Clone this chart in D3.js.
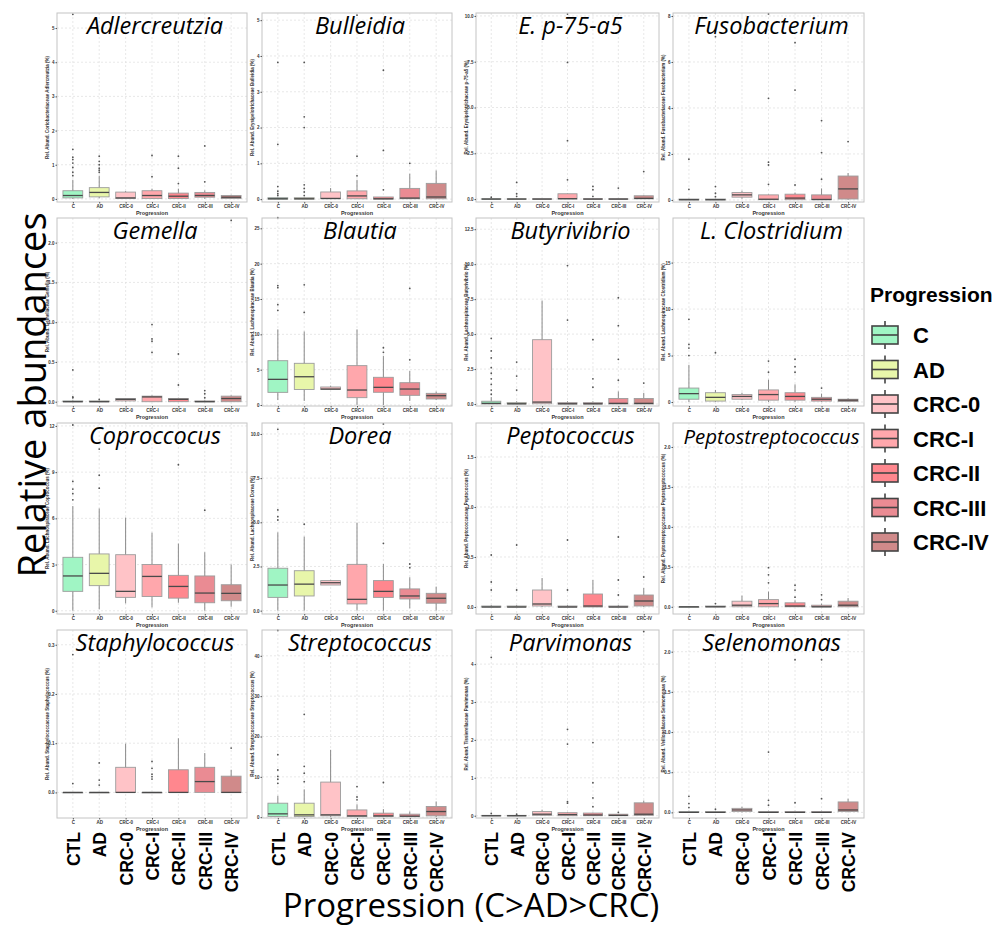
<!DOCTYPE html>
<html>
<head>
<meta charset="utf-8">
<script src="https://cdn.jsdelivr.net/npm/d3@7"></script>
<style>
body{margin:0;background:#fff}
svg{display:block}
</style>
</head>
<body>
<svg width="1008" height="928"></svg>
<script>
var groups = ["C","AD","CRC-0","CRC-I","CRC-II","CRC-III","CRC-IV"];
var bottomLabels = ["CTL","AD","CRC-0","CRC-I","CRC-II","CRC-III","CRC-IV"];
var groupColors = ["#a0f5c4","#e8f6aa","#ffc3c7","#ffa7ac","#ff878e","#ea8b93","#d08a8a"];

var taxa = ["Adlercreutzia","Bulleidia","E. p-75-a5","Fusobacterium",
            "Gemella","Blautia","Butyrivibrio","L. Clostridium",
            "Coproccocus","Dorea","Peptococcus","Peptostreptococcus",
            "Staphylococcus","Streptococcus","Parvimonas","Selenomonas"];

var yTitles = [
  "Rel. Abund. Coriobacteriaceae Adlercreutzia (%)",
  "Rel. Abund. Erysipelotrichaceae Bulleidia (%)",
  "Rel. Abund. Erysipelotrichaceae p-75-a5 (%)",
  "Rel. Abund. Fusobacteriaceae Fusobacterium (%)",
  "Rel. Abund. Gemellaceae Gemella (%)",
  "Rel. Abund. Lachnospiraceae Blautia (%)",
  "Rel. Abund. Lachnospiraceae Butyrivibrio (%)",
  "Rel. Abund. Lachnospiraceae Clostridium (%)",
  "Rel. Abund. Lachnospiraceae Coprococcus (%)",
  "Rel. Abund. Lachnospiraceae Dorea (%)",
  "Rel. Abund. Peptococcaceae Peptococcus (%)",
  "Rel. Abund. Peptostreptococcaceae Peptostreptococcus (%)",
  "Rel. Abund. Staphylococcaceae Staphylococcus (%)",
  "Rel. Abund. Streptococcaceae Streptococcus (%)",
  "Rel. Abund. Tissierellaceae Parvimonas (%)",
  "Rel. Abund. Veillonellaceae Selenomonas (%)"];

var yTicks = [
  [0,1,2,3,4,5],[0,1,2,3,4,5],[0,2.5,5,7.5,10],[0,2,4,6,8],
  [0,0.5,1,1.5,2],[0,5,10,15,20,25],[0,2.5,5,7.5,10,12.5],[0,5,10,15],
  [0,3,6,9,12],[0,2.5,5,7.5,10],[0,0.5,1,1.5],[0,0.5,1,1.5,2],
  [0,0.1,0.2,0.3],[0,10,20,30,40],[0,1,2,3,4],[0,0.5,1,1.5,2]];
var tickFormats = ["d","d",".1f","d",".1f","d",".1f","d","d",".1f",".1f",".1f",".1f","d","d",".1f"];
var yDomains = [
  [-0.09,5.44],[-0.08,5.2],[-0.16,10.16],[-0.09,8.13],
  [-0.054,2.31],[-0.14,26.46],[-0.14,13.3],[-0.43,19.8],
  [-0.21,12.19],[-0.19,10.62],[-0.07,1.84],[-0.09,2.3],
  [-0.052,0.33],[-0.2,46.4],[-0.06,4.9],[-0.07,2.27]];

// [whisker low, q1, median, q3, whisker high] per group
var boxStats = [
  [[0,0.03,0.1,0.24,0.56],[0.02,0.06,0.19,0.33,0.68],[0,0.01,0.03,0.2,0.23],[0,0.01,0.1,0.24,0.3],[0,0.01,0.08,0.17,0.3],[0,0.05,0.1,0.19,0.25],[0,0.01,0.05,0.1,0.12]],
  [[0,0,0.01,0.04,0.05],[0,0,0.01,0.04,0.05],[0,0.01,0.02,0.2,0.31],[0,0.01,0.09,0.23,0.54],[0,0,0.01,0.06,0.06],[0,0.01,0.03,0.3,0.71],[0,0.01,0.06,0.44,0.8]],
  [[0,0,0,0.02,0.04],[0,0,0,0.02,0.03],[0,0,0,0.02,0.02],[0,0.01,0.02,0.29,0.3],[0,0,0,0.02,0.05],[0,0,0,0.02,0.03],[0,0.01,0.04,0.18,0.2]],
  [[0,0,0.01,0.04,0.05],[0,0,0.01,0.04,0.05],[0.05,0.12,0.22,0.32,0.4],[0,0.01,0.03,0.22,0.24],[0,0.01,0.08,0.25,0.32],[0,0.01,0.02,0.22,0.5],[0,0.04,0.48,1.04,1.17]],
  [[0,0,0,0.01,0.02],[0,0,0,0.01,0.02],[0,0.01,0.03,0.04,0.04],[0,0,0.06,0.07,0.08],[0,0,0.03,0.04,0.05],[0,0,0,0.01,0.02],[0,0,0.04,0.07,0.08]],
  [[0.7,1.79,3.63,6.27,10.7],[0.57,2.2,4.0,5.9,10.4],[2.2,2.2,2.26,2.55,2.74],[0,1.04,2.12,5.57,10.7],[0,1.8,2.5,3.92,6.93],[0.57,1.37,2.26,3.16,4.8],[0.7,0.85,1.32,1.65,1.9]],
  [[0,0,0.05,0.2,0.5],[0,0,0.02,0.1,0.2],[0,0.02,0.14,4.6,7.4],[0,0,0.02,0.1,0.2],[0,0,0.02,0.1,0.2],[0,0,0.05,0.4,0.9],[0,0,0.05,0.4,0.8]],
  [[0,0.3,0.9,1.5,4.0],[0,0.1,0.5,1.0,1.3],[0.2,0.3,0.6,0.8,1.0],[0,0.2,0.8,1.3,2.4],[0,0.2,0.6,1.0,1.9],[0,0.1,0.3,0.5,0.9],[0,0.05,0.2,0.3,0.4]],
  [[0,1.26,2.26,3.47,6.8],[0.09,1.63,2.43,3.69,6.64],[0.48,0.87,1.26,3.64,6.05],[0.22,0.93,2.23,3.0,5.07],[0.52,0.82,1.58,2.3,4.36],[0,0.52,1.15,2.26,3.8],[0.26,0.65,1.13,1.69,3.0]],
  [[0,0.75,1.45,2.4,4.43],[0,0.83,1.5,2.26,4.19],[1.45,1.45,1.58,1.7,1.74],[0,0.38,0.64,2.62,4.98],[0,0.75,1.09,1.7,2.64],[0.13,0.66,0.83,1.23,1.89],[0,0.42,0.7,0.98,1.36]],
  [[0,0,0,0.01,0.02],[0,0,0,0.01,0.02],[0,0.01,0.03,0.17,0.29],[0,0,0,0.01,0.02],[0,0,0.01,0.13,0.27],[0,0,0,0.01,0.02],[0,0.01,0.06,0.12,0.19]],
  [[0,0,0,0,0.01],[0,0,0,0.01,0.01],[0,0,0.02,0.07,0.14],[0,0,0.04,0.09,0.19],[0,0,0.01,0.05,0.08],[0,0,0,0.02,0.04],[0,0,0.02,0.07,0.11]],
  [[0,0,0,0,0],[0,0,0,0,0],[0,0,0,0.051,0.099],[0,0,0,0,0],[0,0,0,0.046,0.11],[0,0,0.022,0.051,0.08],[0,0,0,0.033,0.046]],
  [[0,0.17,0.83,3.47,5.3],[0,0.17,0.58,3.47,6.9],[0,0.33,0.58,8.7,16.7],[0,0.17,0.33,1.8,3.2],[0,0.17,0.33,1.0,2.0],[0,0.17,0.25,0.75,1.4],[0,0.33,1.4,2.64,3.9]],
  [[0,0,0,0.01,0.02],[0,0,0,0.01,0.02],[0,0.01,0.04,0.11,0.16],[0,0,0.03,0.08,0.09],[0,0,0.02,0.07,0.08],[0,0,0.01,0.04,0.05],[0,0.01,0.04,0.34,0.4]],
  [[0,0,0,0.01,0.02],[0,0,0,0.01,0.02],[0,0.01,0.03,0.05,0.07],[0,0,0,0.01,0.02],[0,0,0,0.01,0.02],[0,0,0,0.01,0.02],[0,0.01,0.03,0.13,0.17]]];

var outliers = [
  [[0.68,0.78,0.92,1.05,1.15,1.22,1.45,5.4],[0.78,0.84,0.9,1.0,1.1,1.25],[],[0.65,1.27],[0.45,0.9,1.25],[0.5,1.55],[]],
  [[0.1,0.15,0.22,0.35,1.53,3.82],[0.1,0.2,0.3,0.4,2.0,2.3,3.82],[],[0.65,1.2,5.14],[0.26,1.36,3.6],[1.0],[]],
  [[0.1],[0.15,0.29,0.91],[],[1.05,3.19,7.46,10.1],[0.15,0.51,0.69],[0.6],[1.5]],
  [[0.46,1.77],[0.14,0.29,0.58,7.1],[],[0.68,1.52,1.64,4.42,8.09],[0.65,4.78,6.84],[0.9,2.06,3.45],[2.54]],
  [[0.05,0.06,0.4],[0.03],[],[0.62,0.76,0.79,0.97],[0.21,0.6],[0.05,0.1,0.14],[2.28]],
  [[13.4,14.2,16.6,16.9,26.5],[13.1,17.0],[],[],[7.45,8.1],[6.4,16.5],[]],
  [[0.7,1.0,1.4,1.8,2.2,2.6,3.3,3.8,4.7],[1.0,2.0,3.0],[],[6.0,9.9],[1.2,1.8,4.6],[1.7,3.2,5.6,7.6],[1.5]],
  [[5.0,5.8,6.2,8.9],[5.3],[],[3.2,4.4],[3.2,3.8,4.6],[1.5],[]],
  [[7.2,7.6,7.9,8.4,12.06],[7.96,8.8,10.5],[],[],[9.48],[6.53],[]],
  [[5.13,5.32,5.7,10.26],[4.89],[],[],[3.81,10.57],[2.43,2.64],[]],
  [[0.17,0.25,0.52],[0.17,0.62],[],[0.17,0.67],[],[0.12,0.27,0.7],[0.3]],
  [[],[0.04],[],[0.3,0.4,0.49],[0.12,0.21,0.27],[0.09,0.15],[]],
  [[0.018,0.28],[0.015,0.025,0.06],[],[0.027,0.032,0.037,0.049,0.063],[],[],[0.09]],
  [[8.4,9.4,10.1,11.7,15.5,46.3],[8.8,10.9,12.6,25.5],[],[4.3,5.0,7.6],[8.6],[],[]],
  [[0.06,4.18],[0.04],[],[0.33,0.37,1.89,2.28],[0.24,0.47,0.87,1.93],[0.09],[4.86]],
  [[0.06,0.11,0.2],[0.04],[],[0.09,0.15,0.75],[0.12,1.9],[0.17,1.9],[]]];

var cols = [[57,247],[262,452],[476,659],[673,864]];
var rows = [[13,202],[218,406],[423,614],[630,818]];

var svg = d3.select("svg");
var sans = "Liberation Sans, Arial, sans-serif";
var myriad = "'Open Sans', 'Noto Sans', sans-serif";

taxa.forEach(function(name, i) {
  var cx = cols[i % 4], ry = rows[Math.floor(i / 4)];
  var x = d3.scalePoint().domain(groups).range(cx).padding(0.6);
  var y = d3.scaleLinear().domain(yDomains[i]).range([ry[1], ry[0]]);
  var bw = x.step() * 0.75;
  var g = svg.append("g");
  var fmt = d3.format(tickFormats[i]);

  g.append("rect").attr("x", cx[0]).attr("y", ry[0])
    .attr("width", cx[1] - cx[0]).attr("height", ry[1] - ry[0])
    .attr("fill", "#fff");

  // grid
  g.selectAll(".hg").data(yTicks[i]).enter().append("line")
    .attr("x1", cx[0]).attr("x2", cx[1])
    .attr("y1", function(d) { return y(d); }).attr("y2", function(d) { return y(d); })
    .attr("stroke", "#dedede").attr("stroke-width", 0.7).attr("stroke-dasharray", "2,2");
  g.selectAll(".vg").data(groups).enter().append("line")
    .attr("x1", function(d) { return x(d); }).attr("x2", function(d) { return x(d); })
    .attr("y1", ry[0]).attr("y2", ry[1])
    .attr("stroke", "#dedede").attr("stroke-width", 0.7).attr("stroke-dasharray", "2,2");

  // boxes
  var bx = g.selectAll(".box").data(boxStats[i]).enter().append("g");
  bx.append("line")
    .attr("x1", function(d, j) { return x(groups[j]); })
    .attr("x2", function(d, j) { return x(groups[j]); })
    .attr("y1", function(d) { return y(d[0]); }).attr("y2", function(d) { return y(d[4]); })
    .attr("stroke", "#8a8a8a").attr("stroke-width", 1);
  bx.append("rect")
    .attr("x", function(d, j) { return x(groups[j]) - bw / 2; })
    .attr("y", function(d) { return y(d[3]); })
    .attr("width", bw)
    .attr("height", function(d) { return Math.max(0.6, y(d[1]) - y(d[3])); })
    .attr("fill", function(d, j) { return groupColors[j]; })
    .attr("stroke", "#9c9c9c").attr("stroke-width", 0.9);
  bx.append("line")
    .attr("x1", function(d, j) { return x(groups[j]) - bw / 2; })
    .attr("x2", function(d, j) { return x(groups[j]) + bw / 2; })
    .attr("y1", function(d) { return y(d[2]); }).attr("y2", function(d) { return y(d[2]); })
    .attr("stroke", "#4a4a4a").attr("stroke-width", 1.3);

  outliers[i].forEach(function(arr, j) {
    g.selectAll(null).data(arr).enter().append("circle")
      .attr("cx", x(groups[j])).attr("cy", function(d) { return y(d); })
      .attr("r", 0.9).attr("fill", "#555");
  });

  g.append("rect").attr("x", cx[0]).attr("y", ry[0])
    .attr("width", cx[1] - cx[0]).attr("height", ry[1] - ry[0])
    .attr("fill", "none").attr("stroke", "#c4c4c4").attr("stroke-width", 1);

  // y axis
  var ya = g.append("g").attr("transform", "translate(" + cx[0] + ",0)")
    .call(d3.axisLeft(y).tickValues(yTicks[i]).tickFormat(fmt).tickSize(1.5).tickPadding(1));
  ya.select(".domain").remove();
  ya.selectAll("line").attr("stroke", "#555");
  ya.selectAll("text").attr("font-size", 4.5).attr("font-family", sans)
    .attr("font-weight", "bold").attr("fill", "#333");

  // x axis
  var xa = g.append("g").attr("transform", "translate(0," + ry[1] + ")")
    .call(d3.axisBottom(x).tickSize(1.5).tickPadding(1.5));
  xa.select(".domain").remove();
  xa.selectAll("line").attr("stroke", "#555");
  xa.selectAll("text").attr("font-size", 4.5).attr("font-family", sans)
    .attr("font-weight", "bold").attr("fill", "#333");

  g.append("text").attr("x", (cx[0] + cx[1]) / 2).attr("y", ry[1] + 13)
    .attr("text-anchor", "middle").attr("font-size", 5.5).attr("font-weight", "bold")
    .attr("font-family", sans).attr("fill", "#333").text("Progression");

  g.append("text")
    .attr("transform", "translate(" + (cx[0] - 8) + "," + ((ry[0] + ry[1]) / 2) + ") rotate(-90)")
    .attr("text-anchor", "middle").attr("font-size", 4.5).attr("font-weight", "bold")
    .attr("font-family", sans).attr("fill", "#333").text(yTitles[i]);

  // big italic title
  g.append("text").attr("x", (cx[0] + cx[1]) / 2 + 3).attr("y", ry[0] + 21)
    .attr("text-anchor", "middle").attr("font-style", "italic")
    .attr("font-size", name.length > 15 ? 20.5 : 23.5)
    .attr("font-family", myriad).attr("fill", "#000").text(name);
});

// rotated category labels under bottom row
cols.forEach(function(cx) {
  var x = d3.scalePoint().domain(groups).range(cx).padding(0.6);
  svg.append("g").selectAll("text").data(bottomLabels).enter().append("text")
    .attr("transform", function(d, j) { return "translate(" + (x(groups[j]) + 7) + ",832) rotate(-90)"; })
    .attr("text-anchor", "end").attr("font-size", 17.5).attr("font-weight", "bold")
    .attr("font-family", sans).attr("fill", "#000").text(function(d) { return d; });
});

svg.append("text").attr("x", 471).attr("y", 917).attr("text-anchor", "middle")
  .attr("font-size", 33).attr("font-family", myriad).attr("fill", "#000")
  .text("Progression (C>AD>CRC)");

svg.append("text").attr("transform", "translate(46,395) rotate(-90)")
  .attr("text-anchor", "middle").attr("font-size", 38).attr("font-family", myriad)
  .attr("fill", "#000").text("Relative abundances");

// legend
var lg = svg.append("g");
lg.append("text").attr("x", 870).attr("y", 302).attr("font-size", 21)
  .attr("font-weight", "bold").attr("font-family", sans).text("Progression");
var items = lg.selectAll(".item").data(groups).enter().append("g")
  .attr("transform", function(d, j) { return "translate(872," + (335 + j * 34.5) + ")"; });
items.append("line").attr("x1", 13).attr("x2", 13).attr("y1", -14).attr("y2", 14)
  .attr("stroke", "#444").attr("stroke-width", 1.6);
items.append("rect").attr("x", 0).attr("y", -9).attr("width", 26).attr("height", 18)
  .attr("fill", function(d, j) { return groupColors[j]; })
  .attr("stroke", "#444").attr("stroke-width", 1.6);
items.append("line").attr("x1", 0).attr("x2", 26).attr("y1", 0).attr("y2", 0)
  .attr("stroke", "#444").attr("stroke-width", 1.6);
items.append("text").attr("x", 41).attr("y", 8).attr("font-size", 22)
  .attr("font-weight", "bold").attr("font-family", sans).text(function(d) { return d; });
</script>
</body>
</html>
